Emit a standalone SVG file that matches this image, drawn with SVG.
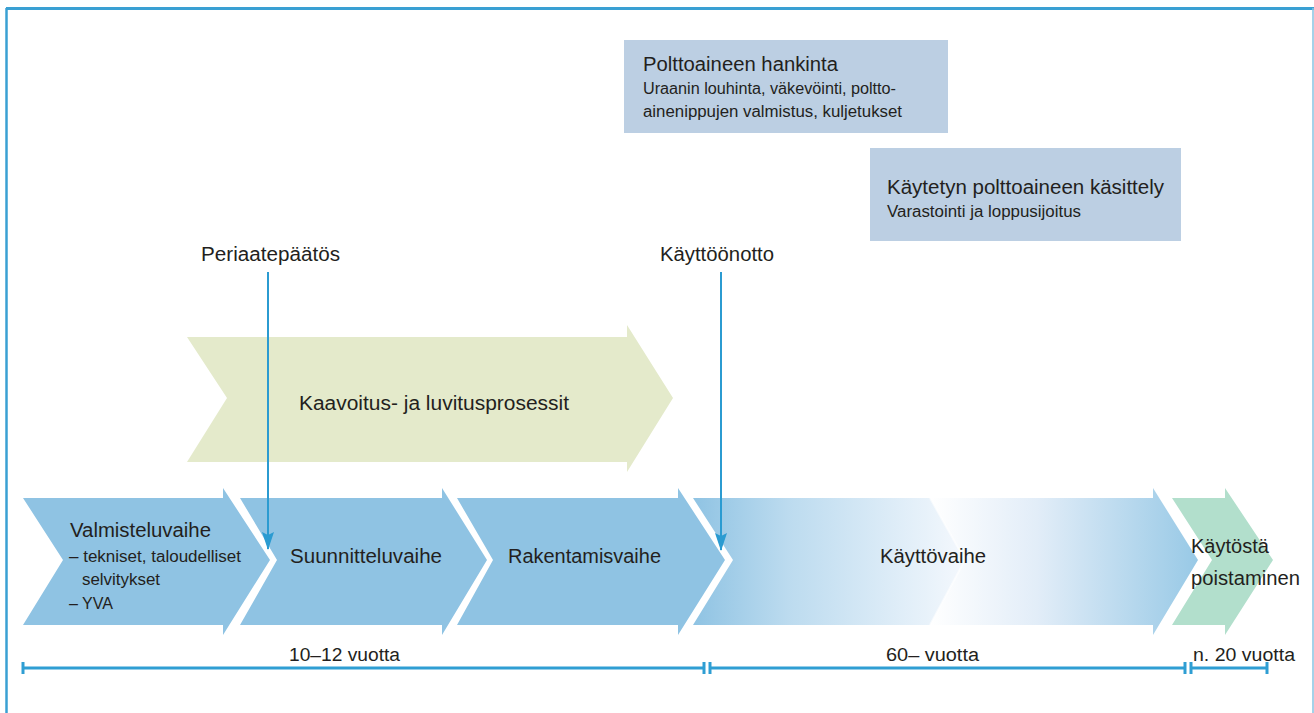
<svg xmlns="http://www.w3.org/2000/svg" width="1314" height="713" viewBox="0 0 1314 713">
<defs>
<style>
text{font-family:"Liberation Sans Narrow","Liberation Sans",Arial,sans-serif;fill:#231f20}
.t{font-size:20px}
.s{font-size:16px}
.y{font-size:18px}
.conn{stroke:#2b9bd1;stroke-width:2;fill:none}
.tl{stroke:#2f9ed3;stroke-width:3;fill:none}
.blue{fill:#8fc3e3}
</style>
<linearGradient id="gA" gradientUnits="userSpaceOnUse" x1="693" y1="0" x2="965" y2="0">
<stop offset="0" stop-color="#8fc3e3"/>
<stop offset="0.35" stop-color="#bcdbef"/>
<stop offset="1" stop-color="#f4f8fd"/>
</linearGradient>
<linearGradient id="gB" gradientUnits="userSpaceOnUse" x1="930" y1="0" x2="1198" y2="0">
<stop offset="0" stop-color="#ffffff"/>
<stop offset="0.4" stop-color="#e2edf8"/>
<stop offset="1" stop-color="#98c9e6"/>
</linearGradient>
<marker id="ah" viewBox="0 0 18 12" refX="17" refY="6" markerWidth="18" markerHeight="12" markerUnits="userSpaceOnUse" orient="auto">
<path d="M0,0 L18,6 L0,12 L3,6 Z" fill="#2b9bd1"/>
</marker>
</defs>

<g id="frame">
<line x1="6" y1="8.5" x2="1314" y2="8.5" stroke="#3aa0d3" stroke-width="3"/>
<line x1="6.5" y1="8" x2="6.5" y2="713" stroke="#3aa0d3" stroke-width="2.5"/>
<line x1="1313" y1="8" x2="1313" y2="713" stroke="#86c3e2" stroke-width="1.5"/>
</g>

<g id="box-hankinta">
<rect x="624" y="40" width="324" height="93" fill="#bccfe3"/>
<text class="t" x="643" y="71" textLength="195" lengthAdjust="spacingAndGlyphs">Polttoaineen hankinta</text>
<text class="s" x="643" y="94" textLength="253" lengthAdjust="spacingAndGlyphs">Uraanin louhinta, väkevöinti, poltto-</text>
<text class="s" x="643" y="117" textLength="259" lengthAdjust="spacingAndGlyphs">ainenippujen valmistus, kuljetukset</text>
</g>

<g id="box-kasittely">
<rect x="870" y="148" width="311" height="93" fill="#bccfe3"/>
<text class="t" x="887" y="194" textLength="277" lengthAdjust="spacingAndGlyphs">Käytetyn polttoaineen käsittely</text>
<text class="s" x="887" y="217" textLength="194" lengthAdjust="spacingAndGlyphs">Varastointi ja loppusijoitus</text>
</g>

<g id="kaavoitus">
<polygon points="187,337 627,337 627,325 673,398 627,472 627,462 187,462 227,398" fill="#e4eacb"/>
<text class="t" x="299" y="410" textLength="270" lengthAdjust="spacingAndGlyphs">Kaavoitus- ja  luvitusprosessit</text>
</g>

<g id="valmistelu">
<polygon class="blue" points="23,498 223,498 223,488 270,560 223,635 223,625 23,625 63,560"/>
<text class="t" x="70" y="537" textLength="141" lengthAdjust="spacingAndGlyphs">Valmisteluvaihe</text>
<text class="s" x="69" y="562" textLength="172" lengthAdjust="spacingAndGlyphs">– tekniset, taloudelliset</text>
<text class="s" x="82" y="585" textLength="78" lengthAdjust="spacingAndGlyphs">selvitykset</text>
<text class="s" x="69" y="609" textLength="44" lengthAdjust="spacingAndGlyphs">– YVA</text>
</g>

<g id="suunnittelu">
<polygon class="blue" points="240,498 442,498 442,488 487,560 442,635 442,625 240,625 277,560"/>
<text class="t" x="290" y="563" textLength="152" lengthAdjust="spacingAndGlyphs">Suunnitteluvaihe</text>
</g>

<g id="rakentamis">
<polygon class="blue" points="457,498 678,498 678,488 725,560 678,635 678,625 457,625 493,560"/>
<text class="t" x="508" y="563" textLength="153" lengthAdjust="spacingAndGlyphs">Rakentamisvaihe</text>
</g>

<g id="kaytto">
<polygon fill="url(#gB)" points="693,498 1153,498 1153,488 1198,560 1153,635 1153,625 693,625 733,560"/>
<polygon fill="url(#gA)" points="693,498 930,498 965,560 930,625 693,625 733,560"/>
<polyline points="930,498 965,560 930,625" fill="none" stroke="#ffffff" stroke-width="2" stroke-opacity="0.6"/>
<text class="t" x="880" y="563" textLength="106" lengthAdjust="spacingAndGlyphs">Käyttövaihe</text>
</g>

<g id="poistaminen">
<polygon fill="#b2dfcc" points="1172,498 1225,498 1225,488 1273,560 1225,635 1225,625 1172,625 1212,560"/>
<text class="t" x="1191" y="553" textLength="78" lengthAdjust="spacingAndGlyphs">Käytöstä</text>
<text class="t" x="1191" y="585" textLength="109" lengthAdjust="spacingAndGlyphs">poistaminen</text>
</g>

<g id="periaatepaatos">
<text class="t" x="201" y="261" textLength="139" lengthAdjust="spacingAndGlyphs">Periaatepäätös</text>
</g>

<g id="kayttoonotto">
<text class="t" x="660" y="261" textLength="114" lengthAdjust="spacingAndGlyphs">Käyttöönotto</text>
</g>

<g id="connectors">
<line class="conn" x1="268" y1="272" x2="268" y2="549" marker-end="url(#ah)"/>
<line class="conn" x1="721" y1="272" x2="721" y2="550" marker-end="url(#ah)"/>
</g>

<g id="timeline">
<line class="tl" x1="23" y1="668" x2="704" y2="668"/>
<line class="tl" x1="23" y1="662" x2="23" y2="674"/>
<line class="tl" x1="704" y1="662" x2="704" y2="674"/>
<line class="tl" x1="710" y1="668" x2="1185" y2="668"/>
<line class="tl" x1="710" y1="662" x2="710" y2="674"/>
<line class="tl" x1="1185" y1="662" x2="1185" y2="674"/>
<line class="tl" x1="1191" y1="668" x2="1267" y2="668"/>
<line class="tl" x1="1191" y1="662" x2="1191" y2="674"/>
<line class="tl" x1="1267" y1="662" x2="1267" y2="674"/>
<text class="y" x="289" y="661" textLength="111" lengthAdjust="spacingAndGlyphs">10–12 vuotta</text>
<text class="y" x="886" y="661" textLength="93" lengthAdjust="spacingAndGlyphs">60– vuotta</text>
<text class="y" x="1193" y="661" textLength="102" lengthAdjust="spacingAndGlyphs">n. 20 vuotta</text>
</g>
</svg>
